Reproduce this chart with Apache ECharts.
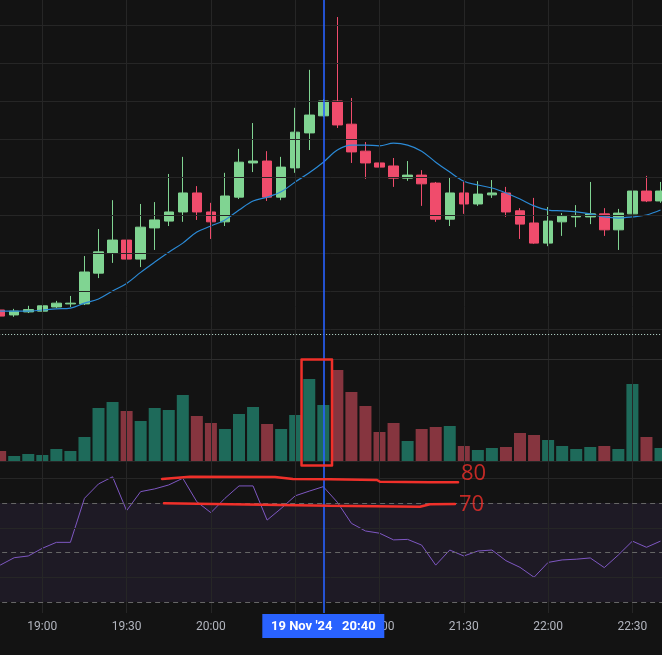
<!DOCTYPE html>
<html><head><meta charset="utf-8">
<script src="https://cdn.jsdelivr.net/npm/echarts@6/dist/echarts.min.js"></script>
<style>html,body{margin:0;padding:0;background:#131313;overflow:hidden;width:662px;height:655px;position:relative;}
#c{position:absolute;left:-7px;top:0;width:676px;height:655px;}</style>
</head><body><div id="c"></div>
<script>
// ---- data ----
const times = ['18:45','18:50','18:55','19:00','19:05','19:10','19:15','19:20','19:25','19:30','19:35','19:40','19:45','19:50','19:55',
 '20:00','20:05','20:10','20:15','20:20','20:25','20:30','20:35','20:40','20:45','20:50','20:55',
 '21:00','21:05','21:10','21:15','21:20','21:25','21:30','21:35','21:40','21:45','21:50','21:55',
 '22:00','22:05','22:10','22:15','22:20','22:25','22:30','22:35','22:40'];
const timeTicks = ['19:00','19:30','20:00','20:30','21:00','21:30','22:00','22:30'];
const open  = [105.0,103.7,104.5,104.7,105.8,106.6,106.6,114.7,120.0,123.4,118.4,126.6,128.4,130.8,135.8,130.8,128.2,134.7,143.7,144.2,134.7,142.4,151.6,156.1,160.0,153.9,146.8,143.7,142.9,139.7,140.5,138.4,128.9,135.8,132.9,135.3,135.8,131.1,127.9,122.6,128.2,129.5,129.5,130.3,126.1,130.3,136.3,133.7];
const close = [103.4,104.7,105.1,106.1,106.8,106.8,115.0,120.3,123.4,118.4,126.8,128.7,130.8,135.8,130.8,128.2,135.0,143.9,144.2,134.7,142.6,151.8,156.3,160.0,153.7,146.6,143.7,142.6,139.7,140.5,138.2,128.9,135.8,132.9,135.5,135.8,130.8,127.6,122.6,128.4,129.7,129.9,130.3,126.1,130.5,136.3,133.7,136.3];
const low   = [102.9,103.2,104.2,104.5,105.5,105.8,106.3,113.4,117.4,115.8,116.3,120.8,127.1,128.2,128.7,123.7,127.1,134.2,141.3,133.7,133.9,141.1,147.1,155.8,152.9,143.7,139.5,137.1,137.4,139.0,132.4,128.2,127.1,130.3,132.4,134.5,129.5,123.7,122.4,121.8,124.5,126.8,127.6,124.5,120.8,129.5,133.4,133.2];
const high  = [105.5,105.3,106.1,106.6,107.4,108.7,119.2,126.3,133.9,131.3,132.9,133.4,140.8,145.3,137.6,133.2,141.1,147.4,154.2,146.8,145.3,158.2,168.2,160.5,182.1,160.8,149.2,151.1,145.0,144.2,141.8,138.7,140.0,138.7,138.9,139.2,137.4,131.8,134.5,132.1,130.5,132.6,138.7,131.8,131.6,150.5,140.3,138.7];
const ma    = [104.7,104.7,104.7,105.0,105.3,105.5,106.8,107.9,110.0,112.0,114.9,117.6,120.2,122.6,125.5,127.1,128.7,131.3,133.7,134.7,136.1,138.7,141.1,143.9,147.1,148.4,148.4,148.2,148.9,148.4,146.8,143.9,141.3,138.9,137.9,137.1,135.8,134.2,132.4,131.3,131.1,130.8,130.3,129.5,129.2,129.5,130.0,131.3];
const volume = [100,50,70,60,120,100,240,530,590,500,400,530,510,660,450,380,320,470,540,370,320,460,820,560,910,690,550,290,380,200,320,340,350,150,110,130,140,280,260,210,150,120,140,150,120,770,240,130];
const rsi = [44.9,47.9,48.6,51.7,54.1,54.1,71.9,77.7,80.6,66.9,74.6,75.7,77.3,80.0,70.5,66.1,71.9,76.9,76.9,63.1,67.8,72.9,74.8,76.6,70.3,61.8,58.7,57.8,55.1,55.3,53.0,44.9,51.0,48.6,50.6,51.0,46.7,44.0,40.0,46.0,47.0,47.3,47.8,43.9,49.0,54.6,52.1,54.6];
const priceLevels = [100,110,120,130,140,150,160,170,180];
const rsiSolidLevels = [40,60,80];
const rsiDashedLevels = [30,50,70];
const rsiBand = [30,70];
const volSeparator = 1020;
const volDotted = 1267;
const crosshairTime = '20:40';
const crosshairLabel = "19 Nov '24   20:40";
// hand-drawn annotations (x = candle index, y = RSI / volume units)
const note80 = [[11.52,79.7],[13.51,80.6],[19.56,80.5],[20.84,79.7],[23.48,79.6],[26.82,79.3],[27.03,78.6],[30.59,78.4],[32.59,78.4]];
const note70 = [[11.66,69.9],[19.92,69.2],[23.48,68.9],[29.88,68.5],[30.59,69.5],[32.37,69.6]];
const noteLabels = [[32.8,81.9,'80'],[32.66,69.2,'70']];
const noteBox = [[21.45,1015],[23.62,1015],[23.62,-45],[21.45,-45],[21.45,1015]];

// ---- style ----
const UP = '#80d492', DOWN = '#f04c6c', VUP = '#1e6a5a', VDOWN = '#86353f';
const GRIDC = '#262626', RED = '#f0302a';
const L = 0.13, R = 1.47;
const nulls = times.map(() => null);
const ml = (data, color, type) => ({silent:true, symbol:['none','none'], animation:false, label:{show:false},
  lineStyle:{color:color, width:1, type:type}, emphasis:{disabled:true}, data:data});

const chart = echarts.init(document.getElementById('c'), null, {renderer:'canvas'});
const option = {
  backgroundColor:'#131313',
  animation:false,
  grid:[
    {left:L, right:R, top:0, height:333},
    {left:L, right:R, top:333, height:128},
    {left:L, right:R, top:461, height:152},
    {left:L, right:R, top:0, height:613}
  ],
  xAxis:[
    {type:'category', gridIndex:0, data:times, show:false},
    {type:'category', gridIndex:1, data:times, show:false},
    {type:'category', gridIndex:2, data:times, axisLine:{show:false}, axisTick:{show:false}, splitLine:{show:false},
      axisLabel:{interval:(i,v)=>timeTicks.includes(v), color:'#b2b5be', fontSize:12, margin:8, fontFamily:'Roboto'}},
    {type:'category', gridIndex:3, data:times, show:false},
    {type:'value', gridIndex:1, min:-0.5, max:47.5, show:false, position:'top'},
    {type:'value', gridIndex:2, min:-0.5, max:47.5, show:false, position:'top'}
  ],
  yAxis:[
    {type:'value', gridIndex:0, min:100-4/3.8, max:100+329/3.8, show:false},
    {type:'value', gridIndex:1, min:0, max:1280, show:false},
    {type:'value', gridIndex:2, min:25.56, max:86.97, show:false},
    {type:'value', gridIndex:3, min:0, max:1, show:false}
  ],
  series:[
    {type:'line', xAxisIndex:3, yAxisIndex:3, data:nulls, z:0, silent:true, symbol:'none',
      markLine: ml(timeTicks.map(t=>({xAxis:t})), GRIDC, 'solid')},
    {type:'line', xAxisIndex:0, yAxisIndex:0, data:nulls, z:0, silent:true, symbol:'none',
      markLine: ml(priceLevels.map(v=>({yAxis:v})), GRIDC, 'solid')},
    {type:'line', xAxisIndex:1, yAxisIndex:1, data:nulls, z:0, silent:true, symbol:'none',
      markLine: {silent:true, symbol:['none','none'], animation:false, label:{show:false}, data:[
        {yAxis:volSeparator, lineStyle:{color:'#2e2e2e', width:1, type:'solid'}},
        {yAxis:0, lineStyle:{color:'#262626', width:1, type:'solid'}},
        {yAxis:volDotted, lineStyle:{color:'#bfe3d6', width:1, type:[1,2]}}
      ]}},
    {type:'line', xAxisIndex:2, yAxisIndex:2, data:nulls, z:0, silent:true, symbol:'none',
      markArea:{silent:true, itemStyle:{color:'rgba(126,87,194,0.10)'}, data:[[{yAxis:rsiBand[0]},{yAxis:rsiBand[1]}]]},
      markLine: {silent:true, symbol:['none','none'], animation:false, label:{show:false}, data:
        rsiSolidLevels.map(v=>({yAxis:v, lineStyle:{color:GRIDC, width:1, type:'solid'}})).concat(
        rsiDashedLevels.map(v=>({yAxis:v, lineStyle:{color:'#666666', width:1, type:[5,4]}})))}},
    {type:'candlestick', xAxisIndex:0, yAxisIndex:0, z:2, barWidth:10,
      data: times.map((t,i)=>[open[i], close[i], low[i], high[i]]),
      itemStyle:{color:UP, color0:DOWN, borderColor:UP, borderColor0:DOWN, borderWidth:1}},
    {type:'line', xAxisIndex:0, yAxisIndex:0, z:3, data:ma, smooth:0.35, symbol:'none',
      lineStyle:{color:'#2b8ad6', width:1.2}},
    {type:'bar', xAxisIndex:1, yAxisIndex:1, z:2, barWidth:12,
      data: volume.map((v,i)=>({value:v, itemStyle:{color: close[i]>=open[i] ? VUP : VDOWN}}))},
    {type:'line', xAxisIndex:2, yAxisIndex:2, z:3, data:rsi, symbol:'none',
      lineStyle:{color:'#7e57c2', width:1}},
    {type:'line', xAxisIndex:3, yAxisIndex:3, data:nulls, z:20, silent:true, symbol:'none',
      markLine: {silent:true, symbol:['none','none'], animation:false, label:{show:false},
        lineStyle:{color:'#2962ff', width:1.6, type:'solid'}, data:[{xAxis:crosshairTime}]}},
    {type:'line', xAxisIndex:4, yAxisIndex:1, z:30, data:noteBox, clip:false, symbol:'none', silent:true,
      lineStyle:{color:RED, width:2.5, join:'round', cap:'round'}},
    {type:'line', xAxisIndex:5, yAxisIndex:2, z:30, data:note80, clip:false, symbol:'none', silent:true,
      lineStyle:{color:RED, width:2.5, cap:'round'}},
    {type:'line', xAxisIndex:5, yAxisIndex:2, z:30, data:note70, clip:false, symbol:'none', silent:true,
      lineStyle:{color:RED, width:2.5, cap:'round'}},
    {type:'scatter', xAxisIndex:5, yAxisIndex:2, z:30, data:noteLabels, symbolSize:0, silent:true, clip:false,
      label:{show:true, position:'right', distance:0, formatter:p=>p.value[2], color:RED, fontSize:22, fontFamily:'Open Sans'}}
  ]
};
chart.setOption(option);
const cx = chart.convertToPixel({xAxisIndex:3}, crosshairTime);
chart.setOption({graphic:[
  {type:'rect', z:100, shape:{x:cx-61, y:614, width:122, height:24}, style:{fill:'#2962ff'}},
  {type:'text', z:101, x:cx, y:626.5, style:{text:crosshairLabel, fill:'#ffffff', font:'bold 13px Roboto',
    align:'center', verticalAlign:'middle', textAlign:'center', textVerticalAlign:'middle'}}
]});
</script>
</body></html>
